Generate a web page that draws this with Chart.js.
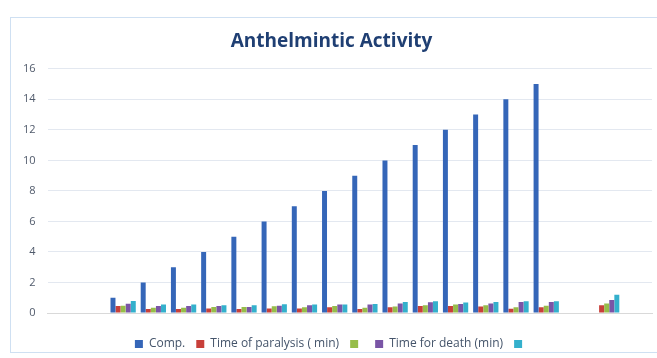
<!DOCTYPE html>
<html>
<head>
<meta charset="utf-8">
<script src="https://cdn.jsdelivr.net/npm/chart.js@4"></script>
<style>
  body { margin: 0; background: #fff; }
  #wrap { position: relative; width: 657px; height: 358px; overflow: hidden; }
  #frame { position: absolute; left: 10px; top: 17px; width: 700px; height: 334px; border: 1px solid #cfe0f2; }
  canvas { position: absolute; left: 0; top: 4px; }
</style>
</head>
<body>
<div id="wrap">
  <div id="frame"></div>
  <canvas id="chart" width="657" height="358"></canvas>
</div>
<script>
// 20 categories, the Excel sheet has blank labels
const labels = ['', '', '', '', '', '', '', '', '', '', '', '', '', '', '', '', '', '', '', ''];

const comp = [null, null, 1, 2, 3, 4, 5, 6, 7, 8, 9, 10, 11, 12, 13, 14, 15, null, null, null];
const paralysis = [null, null, 0.46, 0.27, 0.27, 0.3, 0.27, 0.3, 0.3, 0.37, 0.26, 0.37, 0.46, 0.46, 0.42, 0.28, 0.37, null, 0.5, null];
const green = [null, null, 0.48, 0.35, 0.35, 0.4, 0.4, 0.44, 0.37, 0.46, 0.35, 0.42, 0.5, 0.55, 0.5, 0.37, 0.48, null, 0.63, null];
const death = [null, null, 0.6, 0.46, 0.46, 0.46, 0.4, 0.48, 0.5, 0.55, 0.55, 0.63, 0.7, 0.59, 0.63, 0.72, 0.72, null, 0.85, null];
const cyan = [null, null, 0.78, 0.55, 0.55, 0.5, 0.5, 0.57, 0.55, 0.55, 0.59, 0.72, 0.77, 0.68, 0.72, 0.77, 0.77, null, 1.2, null];

const yTicks = [0, 2, 4, 6, 8, 10, 12, 14, 16];

const font = "'Open Sans', 'Noto Sans', sans-serif";

new Chart(document.getElementById('chart'), {
    type: 'bar',
    data: {
        labels: labels,
        datasets: [
            { label: 'Comp.', data: comp, backgroundColor: '#3566b8' },
            { label: 'Time of paralysis ( min)', data: paralysis, backgroundColor: '#c8403a' },
            { label: '', data: green, backgroundColor: '#96bd4a' },
            { label: 'Time for death (min)', data: death, backgroundColor: '#7a55a6' },
            { label: '', data: cyan, backgroundColor: '#34b0cc' },
        ]
    },
    options: {
        responsive: false,
        animation: false,
        datasets: {
            bar: { categoryPercentage: 0.84, barPercentage: 0.98 }
        },
        layout: {
            padding: { left: 11, right: 5, top: 15, bottom: 2 }
        },
        plugins: {
            title: {
                display: true,
                text: 'Anthelmintic Activity',
                color: '#1f3f73',
                font: { family: font, size: 19, weight: 'bold' },
                padding: { top: 11, bottom: 16 }
            },
            legend: {
                position: 'bottom',
                labels: {
                    boxWidth: 8,
                    boxHeight: 8,
                    padding: 11,
                    color: '#44546a',
                    font: { family: font, size: 12 }
                }
            },
            tooltip: { enabled: false }
        },
        scales: {
            x: {
                grid: { display: false },
                border: { display: true, color: '#d9d9d9' },
                ticks: { display: false },
                // room between the baseline and the legend
                afterFit: axis => { axis.height += 6; }
            },
            y: {
                min: 0,
                max: 16,
                afterBuildTicks: axis => { axis.ticks = yTicks.map(v => ({ value: v })); },
                grid: { color: '#e3e8f0', drawTicks: false },
                border: { display: false },
                ticks: {
                    padding: 12,
                    color: '#505a6b',
                    font: { family: font, size: 11 }
                }
            }
        }
    }
});
</script>
</body>
</html>
